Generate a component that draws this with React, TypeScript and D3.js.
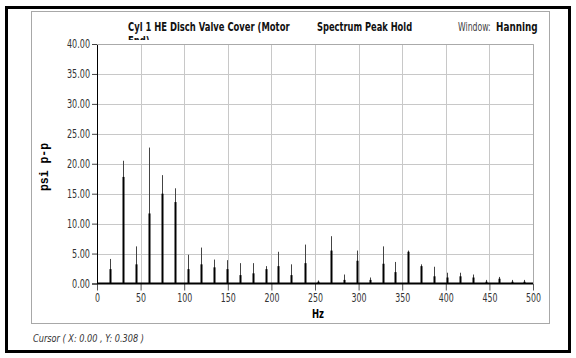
import React, { useEffect, useRef } from 'react';
import * as d3 from 'd3';

// harmonic frequencies (Hz)
const freqs = [15, 30, 45, 60, 74.5, 89.5, 104.5, 119.5, 134, 149, 164, 178.5, 193.5, 208, 223, 238, 253, 268, 283, 298, 313, 327.5, 342, 357, 371.5, 386.5, 401, 416, 431, 446, 461, 476, 490];
// peak hold amplitude (thin line)
const peakHold = [4.1, 20.5, 6.2, 22.7, 18.1, 15.9, 4.8, 6.0, 4.0, 3.9, 3.4, 3.4, 2.9, 5.3, 3.2, 6.5, 0.5, 7.9, 1.5, 5.5, 1.0, 6.2, 3.6, 5.5, 3.2, 2.8, 1.8, 1.8, 1.5, 0.6, 1.1, 0.6, 0.6];
// current spectrum amplitude (thick line)
const current = [2.4, 17.8, 3.2, 11.7, 15.0, 13.6, 2.4, 3.2, 2.7, 2.4, 1.4, 1.7, 2.4, 2.9, 1.4, 3.4, 0.3, 5.5, 0.6, 3.8, 0.6, 3.3, 1.9, 5.3, 2.9, 1.2, 1.0, 1.2, 1.0, 0.3, 0.8, 0.3, 0.3];

const xTicks = [0, 50, 100, 150, 200, 250, 300, 350, 400, 450, 500];
const yTicks = [0, 5, 10, 15, 20, 25, 30, 35, 40];

const titleText = 'Cyl 1 HE Disch Valve Cover (Motor';
const titleText2 = 'End)';
const modeText = 'Spectrum Peak Hold';
const cursorText = 'Cursor ( X: 0.00 , Y: 0.308 )';

const narrow = '"DejaVu Sans Condensed", "Liberation Sans", sans-serif';

// squeeze a label to a narrow width like the original condensed font
const squeeze = (s: string) => s.replace(/\./g, '').length * 5 + (s.match(/\./g) || []).length * 3;

export default function App() {
  const ref = useRef<SVGSVGElement>(null);

  useEffect(() => {
    const svg = d3.select(ref.current);
    svg.selectAll('*').remove();

    const x = d3.scaleLinear().domain([0, 500]).range([97, 533]);
    const y = d3.scaleLinear().domain([0, 40]).range([283.5, 44]);

    // frames
    svg.append('rect').attr('x', 6.5).attr('y', 7.5).attr('width', 563).attr('height', 344)
      .attr('fill', '#fff').attr('stroke', '#000').attr('stroke-width', 3);
    svg.append('rect').attr('x', 31.5).attr('y', 11.5).attr('width', 518).attr('height', 312)
      .attr('fill', '#fff').attr('stroke', '#a8a8a8').attr('stroke-width', 1);

    // grid
    svg.append('g').selectAll('line').data(xTicks.slice(1)).enter().append('line')
      .attr('x1', d => Math.round(x(d)) + 0.5).attr('x2', d => Math.round(x(d)) + 0.5)
      .attr('y1', y(40)).attr('y2', y(0))
      .attr('stroke', '#c8c8c8');
    svg.append('g').selectAll('line').data(yTicks.slice(1)).enter().append('line')
      .attr('x1', x(0)).attr('x2', x(500))
      .attr('y1', d => Math.round(y(d)) + 0.5).attr('y2', d => Math.round(y(d)) + 0.5)
      .attr('stroke', '#c8c8c8');

    // y axis
    const yAxis = d3.axisLeft(y).tickValues(yTicks).tickFormat(d3.format('.2f')).tickSize(5).tickPadding(2);
    const gy = svg.append('g').attr('transform', `translate(${x(0)},0)`).call(yAxis);
    gy.select('.domain').attr('stroke', '#000');
    gy.selectAll('line').attr('stroke', '#444');
    gy.selectAll('text').attr('font-family', narrow).attr('font-size', 12).attr('fill', '#333')
      .attr('textLength', function () { return squeeze(d3.select(this).text()); })
      .attr('lengthAdjust', 'spacingAndGlyphs');

    // x axis
    const xAxis = d3.axisBottom(x).tickValues(xTicks).tickSize(7).tickPadding(3);
    const gx = svg.append('g').attr('transform', `translate(0,${y(0)})`).call(xAxis);
    gx.select('.domain').remove();
    gx.selectAll('line').attr('stroke', '#555');
    gx.selectAll('text').attr('font-family', narrow).attr('font-size', 12).attr('fill', '#333')
      .attr('textLength', function () { return squeeze(d3.select(this).text()); })
      .attr('lengthAdjust', 'spacingAndGlyphs');

    const data = freqs.map((f, i) => ({ f, peak: peakHold[i], cur: current[i] }));

    // peak hold (thin)
    svg.append('g').selectAll('line').data(data).enter().append('line')
      .attr('x1', d => Math.round(x(d.f)) + 0.5).attr('x2', d => Math.round(x(d.f)) + 0.5)
      .attr('y1', y(0)).attr('y2', d => y(d.peak))
      .attr('stroke', '#444').attr('stroke-width', 1);
    // current spectrum (thick)
    svg.append('g').selectAll('line').data(data).enter().append('line')
      .attr('x1', d => Math.round(x(d.f)) + 0.5).attr('x2', d => Math.round(x(d.f)) + 0.5)
      .attr('y1', y(0)).attr('y2', d => y(d.cur))
      .attr('stroke', '#000').attr('stroke-width', 2);

    // baseline
    svg.append('line').attr('x1', x(0)).attr('x2', x(500)).attr('y1', y(0)).attr('y2', y(0))
      .attr('stroke', '#000').attr('stroke-width', 2);
    // plot border top/right
    svg.append('path')
      .attr('d', `M${x(0)},${y(40) + 0.5}H${x(500) + 0.5}V${y(0)}`)
      .attr('fill', 'none').attr('stroke', '#aaa');

    // titles, squeezed horizontally to look like the narrow original font
    // second title line is cut off by the plot, only its top shows
    svg.append('clipPath').attr('id', 'ttl').append('rect').attr('x', -10).attr('y', -20).attr('width', 100).attr('height', 15);
    const label = (tx: number, ty: number, sx: number, s: string, bold: boolean, fill = '#111') =>
      svg.append('g').attr('transform', `translate(${tx},${ty}) scale(${sx},1)`)
        .append('text').attr('font-family', narrow).attr('font-size', 12)
        .attr('font-weight', bold ? 'bold' : 'normal').attr('fill', fill).text(s);

    label(128, 31, 0.78, titleText, true);
    label(128, 45, 0.78, titleText2, true).attr('clip-path', 'url(#ttl)');
    label(317, 31, 0.77, modeText, true);
    label(458, 31, 0.72, 'Window:', false, '#444');
    label(496, 31, 0.82, 'Hanning', true);

    // axis titles
    svg.append('text').attr('transform', 'translate(48,167) rotate(-90)').attr('text-anchor', 'middle')
      .attr('font-family', '"Liberation Mono", monospace').attr('font-weight', 'bold').attr('font-size', 12)
      .attr('textLength', 48).attr('lengthAdjust', 'spacingAndGlyphs')
      .text('psi p-p');
    svg.append('text').attr('x', 318).attr('y', 318).attr('text-anchor', 'middle')
      .attr('font-family', narrow).attr('font-weight', 'bold').attr('font-size', 13)
      .attr('textLength', 12).attr('lengthAdjust', 'spacingAndGlyphs').text('Hz');

    svg.append('text').attr('x', 33).attr('y', 342).attr('font-family', narrow)
      .attr('font-style', 'italic').attr('font-size', 11).attr('fill', '#333')
      .attr('textLength', 111).attr('lengthAdjust', 'spacingAndGlyphs').text(cursorText);
  }, []);

  return (
    <svg ref={ref} width={576} height={358} style={{ position: 'absolute', left: 0, top: 0, background: '#fff' }} />
  );
}
